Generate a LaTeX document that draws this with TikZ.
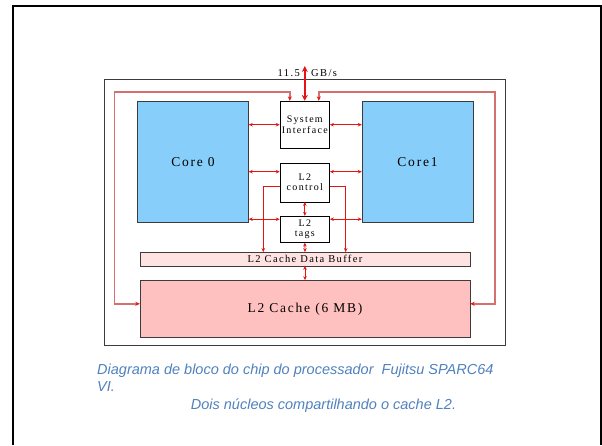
\documentclass[tikz,border=0pt]{standalone}
\usepackage{fontspec}
\setmainfont{Liberation Serif}
\newfontfamily\diagfont[LetterSpace=13]{Liberation Serif}
\newfontfamily\capfont{Liberation Sans}
\usepackage{tikz}
\usetikzlibrary{arrows.meta, positioning}
\definecolor{coreblue}{RGB}{135, 206, 250}
\definecolor{cachepink}{RGB}{255, 192, 192}
\definecolor{bufferpink}{RGB}{255, 226, 226}
\definecolor{busred}{RGB}{228, 20, 20}
\definecolor{loopred}{RGB}{214, 112, 112}
\definecolor{edgegray}{RGB}{60, 60, 60}
\definecolor{captionblue}{RGB}{79, 129, 189}

\begin{document}
\begin{tikzpicture}[x=1pt, y=-1pt,
    core/.style={draw=edgegray, fill=coreblue, minimum width=111pt,
                 minimum height=121.3pt, font=\diagfont\fontsize{13.5}{15}\selectfont},
    unit/.style={draw=black, fill=white, minimum width=49.7pt, align=center,
                 inner sep=0pt, font=\diagfont\fontsize{10}{10.5}\selectfont},
    cachebar/.style={draw=edgegray, minimum width=330pt, inner sep=0pt},
    link/.style={{Stealth[length=4pt,width=3.5pt]}-{Stealth[length=4pt,width=3.5pt]},
                 busred, line width=0.8pt},
    feed/.style={-{Stealth[length=4pt,width=3.5pt]}, busred, line width=0.8pt},
    loopline/.style={{Stealth[length=4.5pt,width=4pt,busred]}-{Stealth[length=4.5pt,width=4pt,busred]},
                     loopred, line width=1.6pt},
    caption/.style={font=\capfont\itshape\fontsize{14.5}{17}\selectfont,
                    text=captionblue, anchor=base west, inner sep=0pt}
]
    \useasboundingbox (0,0) rectangle (602,445);

    % slide frame
    \draw[line width=2pt] (13,445) -- (13,5.5) -- (600.5,5.5) -- (600.5,445);

    % Chip outline
    \node[draw=edgegray, line width=0.8pt, minimum width=401.7pt,
          minimum height=266.7pt] (chip) at (304.8,212.4) {};
    \coordinate (loopNW) at (114.3,91.7);
    \coordinate (loopNE) at (495,91.7);
    \coordinate (ext) at (304.8,66);

    % Cores
    \node[core] (core0) at (193,161.7) {Core 0};
    \node[core] (core1) at (417.5,161.7) {Core1};

    % Shared units
    \node[unit, minimum height=47.3pt] (sysif) at (304.8,124.7) {System\\Interface};
    \node[unit, minimum height=39pt] (l2ctrl) at (304.8,182.2) {L2\\control};
    \node[unit, minimum height=26.3pt] (l2tags) at (304.8,229.2) {L2\\tags};

    % L2 cache
    \node[cachebar, fill=bufferpink, minimum height=13.4pt,
          font=\diagfont\fontsize{10.5}{12}\selectfont] (buffer) at (305,259) {L2 Cache Data Buffer};
    \node[cachebar, fill=cachepink, minimum height=57pt,
          font=\diagfont\fontsize{13.5}{15}\selectfont] (l2cache) at (305,308.8) {L2 Cache (6 MB)};

    % External bus
    \draw[{Stealth[length=6pt,width=6pt]}-{Stealth[length=6pt,width=6pt]}, busred,
          line width=2pt] (ext) -- (sysif.north);
    \node[anchor=east, inner sep=0pt, font=\diagfont\fontsize{10.5}{12}\selectfont]
        (bwval) at (300,73.5) {11.5};
    \node[anchor=west, inner sep=0pt, font=\diagfont\fontsize{10.5}{12}\selectfont]
        (bwunit) at (311,73.5) {GB/s};

    % Core links
    \coordinate (ctrlW) at ([yshift=10.5pt]l2ctrl.west);
    \coordinate (tagsW) at ([yshift=10pt]l2tags.west);
    \draw[link] (core0.east |- sysif.west) -- (sysif.west);
    \draw[link] (sysif.east) -- (sysif.east -| core1.west);
    \draw[link] (core0.east |- ctrlW) -- (ctrlW);
    \draw[link] (ctrlW -| l2ctrl.east) -- (ctrlW -| core1.west);
    \draw[link] (core0.east |- tagsW) -- (tagsW);
    \draw[link] (tagsW -| l2tags.east) -- (tagsW -| core1.west);

    % Vertical links
    \draw[link] (l2ctrl.south) -- (l2tags.north);
    \draw[link] (l2tags.south) -- (buffer.north);
    \draw[link] (buffer.south) -- (l2cache.north);
    \draw[feed] ([yshift=-4pt]l2ctrl.west) -| ([xshift=-41.7pt]buffer.north);
    \draw[feed] ([yshift=-4pt]l2ctrl.east) -| ([xshift=40.7pt]buffer.north);

    % Cache to system interface
    \draw[loopline] ([yshift=5pt]l2cache.west) -| (loopNW) -| ([xshift=-15pt]sysif.north);
    \draw[loopline] ([yshift=5pt]l2cache.east) -| (loopNE) -| ([xshift=14pt]sysif.north);

    % Caption
    \node[caption] (capA) at (97,374.3) {Diagrama de bloco do chip do processador\ \ Fujitsu SPARC64};
    \node[caption] (capB) at (97,391.7) {VI.};
    \node[caption] (capC) at (190.7,409) {Dois núcleos compartilhando o cache L2.};
\end{tikzpicture}
\end{document}
